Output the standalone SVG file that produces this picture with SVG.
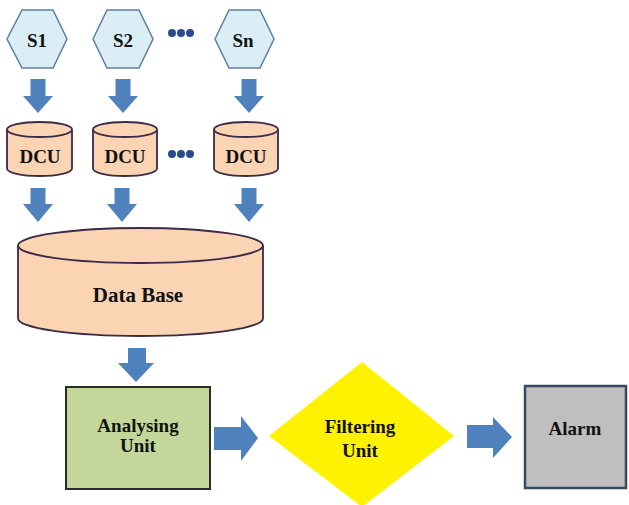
<svg xmlns="http://www.w3.org/2000/svg" width="629" height="505" viewBox="0 0 629 505">
<defs>
<style>
.hex{fill:#dbeef5;stroke:#5b7ea8;stroke-width:1.5}
.cyl{fill:#fbd4b4;stroke:#3b2a48;stroke-width:1.8}
.arr{fill:#4f81bd}
.dot{fill:#2a4c8c}
</style>
</defs>
<rect width="629" height="505" fill="#fff"/>
<g id="S1"><polygon class="hex" points="7,39 22,10 53,10 67,39 53,68 22,68"/><text x="37" y="47" font-family="Liberation Serif" font-weight="bold" font-size="19" fill="#111" text-anchor="middle">S1</text></g>
<g id="S2"><polygon class="hex" points="93,39 107,10 139,10 153,39 139,68 107,68"/><text x="123" y="47" font-family="Liberation Serif" font-weight="bold" font-size="19" fill="#111" text-anchor="middle">S2</text></g>
<g id="Sn"><polygon class="hex" points="215,39 229,10 260,10 274,39 260,68 229,68"/><text x="243" y="47" font-family="Liberation Serif" font-weight="bold" font-size="19" fill="#111" text-anchor="middle">Sn</text></g>
<g id="dots1"><circle class="dot" cx="172" cy="33" r="4"/><circle class="dot" cx="181" cy="33" r="4"/><circle class="dot" cx="190" cy="33" r="4"/></g>
<g id="DCU1"><path class="cyl" d="M7,129.5 V168.5 A32.5,7.5 0 0 0 72,168.5 V129.5"/><ellipse class="cyl" cx="39.5" cy="129.5" rx="32.5" ry="7.5"/><text x="40" y="163" font-family="Liberation Serif" font-weight="bold" font-size="19" fill="#111" text-anchor="middle">DCU</text></g>
<g id="DCU2"><path class="cyl" d="M93,129.5 V168.5 A32,7.5 0 0 0 157,168.5 V129.5"/><ellipse class="cyl" cx="125" cy="129.5" rx="32" ry="7.5"/><text x="125" y="163" font-family="Liberation Serif" font-weight="bold" font-size="19" fill="#111" text-anchor="middle">DCU</text></g>
<g id="DCU3"><path class="cyl" d="M214,129.5 V168.5 A32,7.5 0 0 0 278,168.5 V129.5"/><ellipse class="cyl" cx="246" cy="129.5" rx="32" ry="7.5"/><text x="246" y="163" font-family="Liberation Serif" font-weight="bold" font-size="19" fill="#111" text-anchor="middle">DCU</text></g>
<g id="dots2"><circle class="dot" cx="172" cy="154" r="4"/><circle class="dot" cx="181" cy="154" r="4"/><circle class="dot" cx="190" cy="154" r="4"/></g>
<g id="DataBase"><path class="cyl" d="M18,245.5 V318.5 A122.5,17.5 0 0 0 263,318.5 V245.5"/><ellipse class="cyl" cx="140.5" cy="245.5" rx="122.5" ry="17.5"/><text x="138" y="302" font-family="Liberation Serif" font-weight="bold" font-size="21" fill="#111" text-anchor="middle">Data Base</text></g>
<g id="Analysing"><rect x="66" y="387" width="144" height="102" fill="#c4d79b" stroke="#2b2b2b" stroke-width="2"/><text x="138" y="432" font-family="Liberation Serif" font-weight="bold" font-size="19" fill="#111" text-anchor="middle">Analysing</text><text x="138" y="452" font-family="Liberation Serif" font-weight="bold" font-size="19" fill="#111" text-anchor="middle">Unit</text></g>
<g id="Filtering"><polygon points="269,436 362,362 454,436 362,507" fill="#fff200"/><text x="360" y="433" font-family="Liberation Serif" font-weight="bold" font-size="19" fill="#111" text-anchor="middle">Filtering</text><text x="360" y="457" font-family="Liberation Serif" font-weight="bold" font-size="19" fill="#111" text-anchor="middle">Unit</text></g>
<g id="Alarm"><rect x="525" y="386" width="101" height="102" fill="#bfbfbf" stroke="#3a4a5e" stroke-width="2.5"/><text x="575" y="435" font-family="Liberation Serif" font-weight="bold" font-size="19" fill="#111" text-anchor="middle">Alarm</text></g>
<g id="connectors">
<polygon class="arr" points="30.5,79 45.5,79 45.5,96 53,96 38,113 23,96 30.5,96"/>
<polygon class="arr" points="115.5,79 130.5,79 130.5,96 138,96 123,113 108,96 115.5,96"/>
<polygon class="arr" points="241.5,79 256.5,79 256.5,96 264,96 249,113 234,96 241.5,96"/>
<polygon class="arr" points="30.5,188 45.5,188 45.5,204 53,204 38,222 23,204 30.5,204"/>
<polygon class="arr" points="114.5,188 129.5,188 129.5,204 137,204 122,222 107,204 114.5,204"/>
<polygon class="arr" points="241.5,188 256.5,188 256.5,204 264,204 249,222 234,204 241.5,204"/>
<polygon class="arr" points="128,348 146,348 146,363 154,363 136,382 118,363 128,363"/>
<polygon class="arr" points="214,427 241,427 241,416 258,438 241,461 241,450 214,450"/>
<polygon class="arr" points="467,425 493,425 493,417 512,437 493,458 493,448 467,448"/>
</g>
</svg>
